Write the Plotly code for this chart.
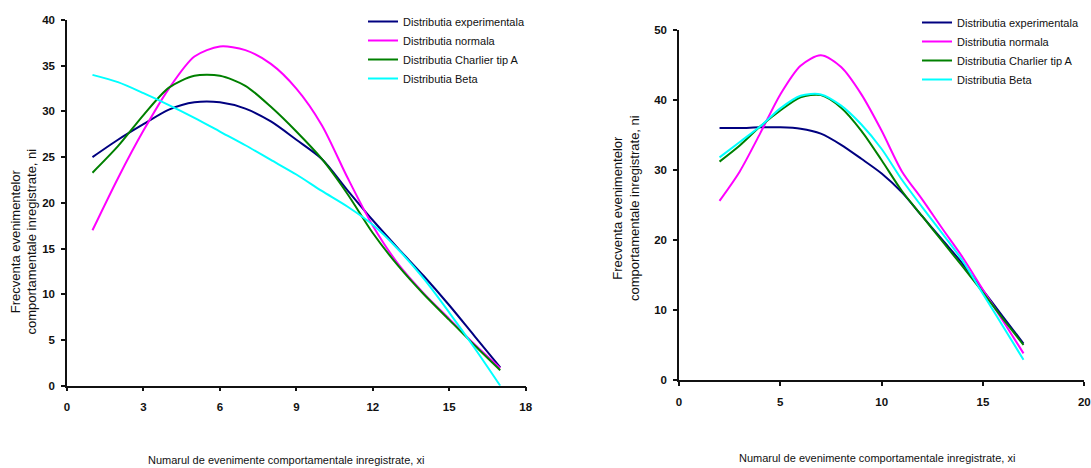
import plotly.graph_objects as go

W, H = 1091, 468

# ---------------- data (left chart) ----------------
x_left = [1, 2, 3, 4, 5, 6, 7, 8, 9, 10, 11, 12, 13, 14, 15, 16, 17]
exp_left = [25.0, 26.9, 28.6, 30.2, 31.0, 31.0, 30.3, 28.9, 26.9, 24.8, 21.4, 18.1, 15.0, 12.0, 8.8, 5.4, 2.0]
norm_left = [17.0, 22.7, 27.9, 32.5, 36.0, 37.1, 36.7, 35.2, 32.5, 28.5, 22.8, 17.5, 13.3, 10.1, 7.3, 4.5, 1.9]
charl_left = [23.3, 26.2, 29.6, 32.6, 33.9, 33.9, 32.8, 30.5, 27.8, 24.8, 21.0, 16.7, 13.1, 10.0, 7.2, 4.4, 1.7]
beta_left = [34.0, 33.2, 32.0, 30.7, 29.3, 27.8, 26.3, 24.7, 23.1, 21.3, 19.6, 17.6, 14.9, 11.7, 8.0, 4.1, 0.0]

# ---------------- data (right chart) ----------------
x_right = [2, 3, 4, 5, 6, 7, 8, 9, 10, 11, 12, 13, 14, 15, 16, 17]
exp_right = [36.0, 36.0, 36.1, 36.1, 35.9, 35.2, 33.6, 31.6, 29.5, 26.8, 23.4, 20.0, 16.6, 12.8, 9.0, 5.2]
norm_right = [25.6, 29.8, 35.2, 40.8, 44.9, 46.4, 44.7, 40.8, 35.6, 29.8, 25.8, 21.6, 17.5, 12.9, 8.4, 3.8]
charl_right = [31.2, 33.5, 36.2, 38.5, 40.4, 40.7, 38.9, 35.6, 31.4, 27.0, 23.4, 19.8, 16.2, 12.5, 8.7, 5.0]
beta_right = [31.8, 34.0, 36.2, 38.8, 40.6, 40.8, 39.2, 36.5, 33.0, 28.6, 24.7, 20.9, 17.0, 12.3, 7.6, 2.9]

names = ["Distributia experimentala", "Distributia normala", "Distributia Charlier tip A", "Distributia Beta"]
colors = ["#000080", "#FF00FF", "#008000", "#00FFFF"]

x_ticks_left = [0, 3, 6, 9, 12, 15, 18]
y_ticks_left = [0, 5, 10, 15, 20, 25, 30, 35, 40]
x_ticks_right = [0, 5, 10, 15, 20]
y_ticks_right = [0, 10, 20, 30, 40, 50]

x_title = "Numarul de evenimente comportamentale inregistrate, xi"
y_title = "Frecventa evenimentelor<br>comportamentale inregistrate, ni"

SANS = "Liberation Sans, Arial, sans-serif"

fig = go.Figure()

for ys, nm, c in zip([exp_left, norm_left, charl_left, beta_left], names, colors):
    fig.add_trace(go.Scatter(x=x_left, y=ys, name=nm, mode="lines",
                             line=dict(color=c, width=2, shape="spline", smoothing=0.8),
                             xaxis="x", yaxis="y", legend="legend"))
for ys, nm, c in zip([exp_right, norm_right, charl_right, beta_right], names, colors):
    fig.add_trace(go.Scatter(x=x_right, y=ys, name=nm, mode="lines",
                             line=dict(color=c, width=2, shape="spline", smoothing=0.8),
                             xaxis="x2", yaxis="y2", legend="legend2"))

def px_x(p):
    return p / W

def px_y(p):
    return 1 - p / H

def bold(vals):
    return ["<b>%s</b>" % v for v in vals]

axis_common = dict(showgrid=False, zeroline=False, showline=True, linecolor="#111111",
                   linewidth=1.5, ticks="outside", ticklen=4, tickwidth=1.5, tickcolor="#111111",
                   tickfont=dict(family=SANS, size=11.5, color="#111111"))

fig.update_layout(
    width=W, height=H,
    margin=dict(l=0, r=0, t=0, b=0, autoexpand=False),
    paper_bgcolor="white", plot_bgcolor="white",
    font=dict(family=SANS, size=11, color="#111111"),
    xaxis=dict(domain=[px_x(67), px_x(525.7)], range=[0, 18], tickvals=x_ticks_left,
               ticktext=bold(x_ticks_left), anchor="y", ticklabelstandoff=6, **axis_common),
    yaxis=dict(domain=[px_y(385.7), px_y(20)], range=[0, 40], tickvals=y_ticks_left,
               ticktext=bold(y_ticks_left), anchor="x", ticklabelstandoff=4, **axis_common),
    xaxis2=dict(domain=[px_x(679), px_x(1084.3)], range=[0, 20], tickvals=x_ticks_right,
                ticktext=bold(x_ticks_right), anchor="y2", ticklabelstandoff=6, **axis_common),
    yaxis2=dict(domain=[px_y(380), px_y(30)], range=[0, 50], tickvals=y_ticks_right,
                ticktext=bold(y_ticks_right), anchor="x2", ticklabelstandoff=4, **axis_common),
    legend=dict(x=px_x(363), y=px_y(7), xanchor="left", yanchor="top",
                font=dict(family=SANS, size=11, color="#111111"),
                bgcolor="rgba(0,0,0,0)", tracegroupgap=0),
    legend2=dict(x=px_x(917), y=px_y(8), xanchor="left", yanchor="top",
                 font=dict(family=SANS, size=11, color="#111111"),
                 bgcolor="rgba(0,0,0,0)", tracegroupgap=0),
    annotations=[
        dict(text=x_title, xref="paper", yref="paper", x=px_x(286), y=px_y(460),
             xanchor="center", yanchor="middle", showarrow=False,
             font=dict(family=SANS, size=11, color="#111111")),
        dict(text=x_title, xref="paper", yref="paper", x=px_x(877), y=px_y(458),
             xanchor="center", yanchor="middle", showarrow=False,
             font=dict(family=SANS, size=11, color="#111111")),
        dict(text=y_title, xref="paper", yref="paper", x=px_x(23.5), y=px_y(242),
             xanchor="center", yanchor="middle", showarrow=False, textangle=-90,
             font=dict(family=SANS, size=13, color="#111111")),
        dict(text=y_title, xref="paper", yref="paper", x=px_x(626), y=px_y(208),
             xanchor="center", yanchor="middle", showarrow=False, textangle=-90,
             font=dict(family=SANS, size=13, color="#111111")),
    ],
)

fig.write_html("out.html")
